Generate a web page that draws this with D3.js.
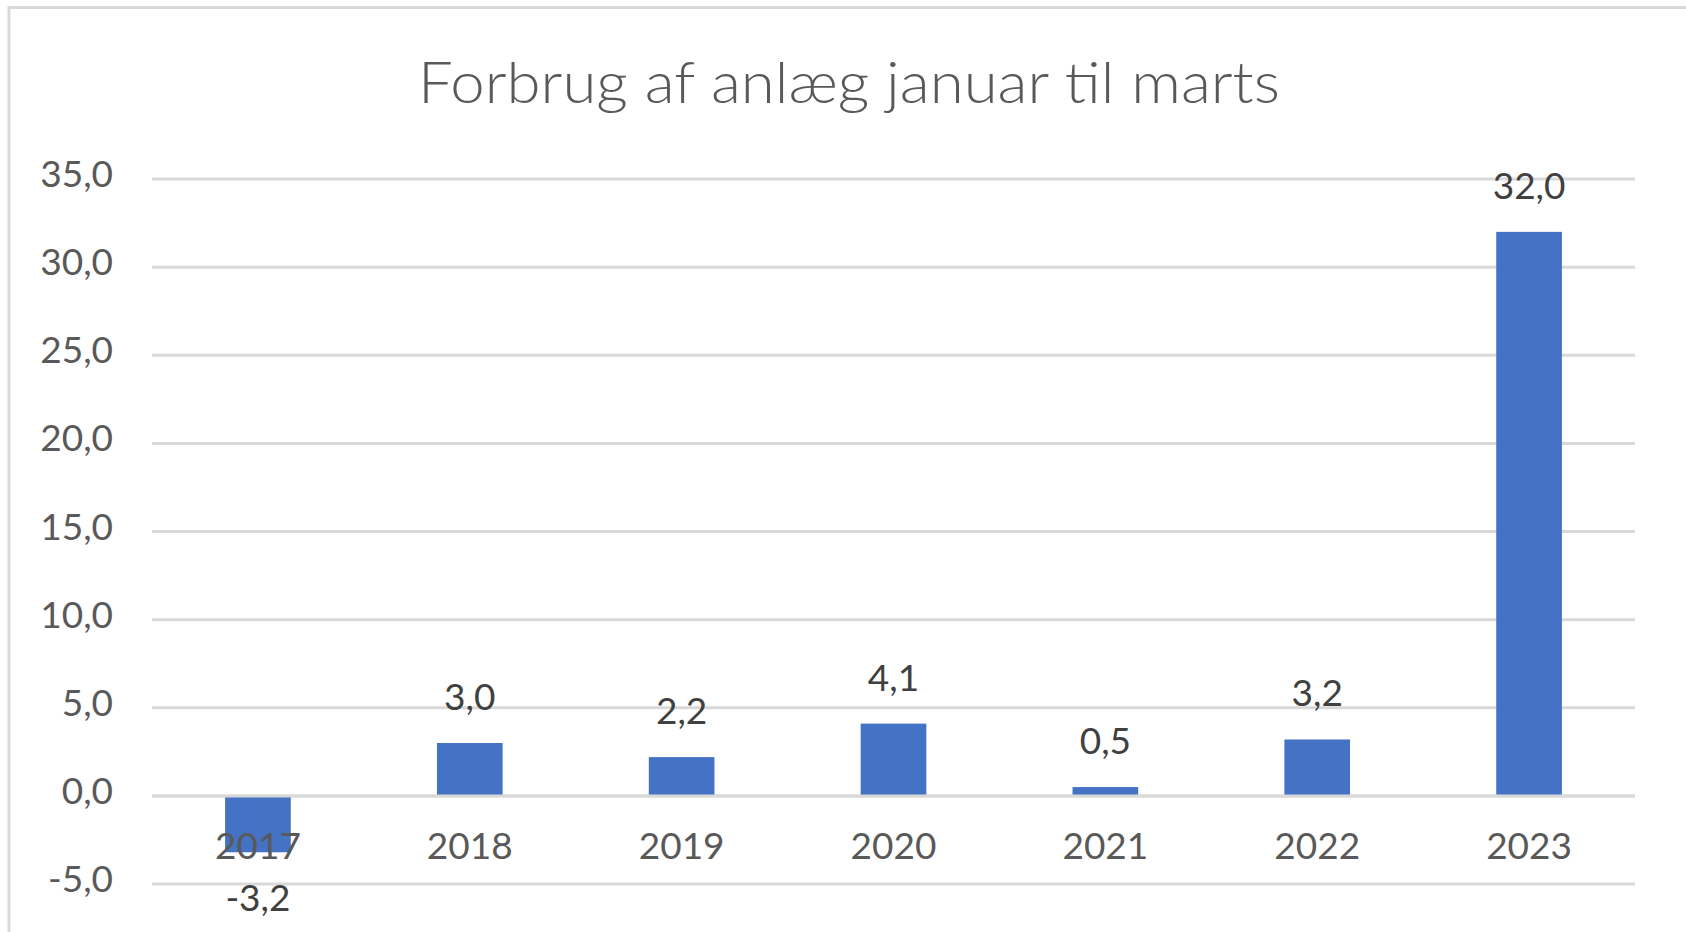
<!DOCTYPE html>
<html>
<head>
<meta charset="utf-8">
<script src="https://cdn.jsdelivr.net/npm/d3@7"></script>
<style>
  html, body { margin: 0; padding: 0; background: #fff; }
  svg { display: block; font-family: Lato, "Open Sans", sans-serif; }
</style>
</head>
<body>
<svg width="1686" height="932"></svg>
<script>
var titleText = "Forbrug af anlæg januar til marts";
var years = ["2017", "2018", "2019", "2020", "2021", "2022", "2023"];
var values = [-3.2, 3.0, 2.2, 4.1, 0.5, 3.2, 32.0];
var yTicks = [-5, 0, 5, 10, 15, 20, 25, 30, 35];

var svg = d3.select('svg');
var da = d3.formatLocale({decimal: ",", thousands: ".", grouping: [3], currency: ["", " kr."], minus: "-"});
var fmt = da.format(".1f");

// ramme
svg.append('rect')
   .attr('x', 9).attr('y', 7.5)
   .attr('width', 1700).attr('height', 960)
   .attr('fill', 'none')
   .attr('stroke', '#d9d9d9')
   .attr('stroke-width', 3);

var x = d3.scaleBand().domain(years).range([152, 1635]).paddingInner(0.69).paddingOuter(0.345);
var y = d3.scaleLinear().domain([-5, 35]).range([884, 179]);

// titel
svg.append('text')
   .attr('x', 849).attr('y', 103)
   .attr('text-anchor', 'middle')
   .attr('font-size', '57px')
   .attr('font-weight', 300)
   .attr('fill', '#595959')
   .attr('textLength', 862)
   .attr('lengthAdjust', 'spacingAndGlyphs')
   .text(titleText);

// gitterlinjer
svg.append('g').selectAll('line')
   .data(yTicks).enter().append('line')
   .attr('x1', 152).attr('x2', 1635)
   .attr('y1', function(d) { return y(d); })
   .attr('y2', function(d) { return y(d); })
   .attr('stroke', '#d9d9d9')
   .attr('stroke-width', 3);

// y-akse tekster
svg.append('g').selectAll('text')
   .data(yTicks).enter().append('text')
   .attr('x', 113)
   .attr('y', function(d) { return y(d) + 8; })
   .attr('text-anchor', 'end')
   .attr('font-size', '37px')
   .attr('fill', '#595959')
   .text(function(d) { return fmt(d); });

// søjler
svg.append('g').selectAll('rect')
   .data(values).enter().append('rect')
   .attr('x', function(d, i) { return x(years[i]); })
   .attr('width', x.bandwidth())
   .attr('y', function(d) { return y(Math.max(0, d)); })
   .attr('height', function(d) { return Math.abs(y(d) - y(0)); })
   .attr('fill', '#4472c4');

// nul-linje ovenpå søjlerne
svg.append('line')
   .attr('x1', 152).attr('x2', 1635)
   .attr('y1', y(0)).attr('y2', y(0))
   .attr('stroke', '#d9d9d9')
   .attr('stroke-width', 3);

// kategori tekster
svg.append('g').selectAll('text')
   .data(years).enter().append('text')
   .attr('x', function(d) { return x(d) + x.bandwidth() / 2; })
   .attr('y', y(0) + 63)
   .attr('text-anchor', 'middle')
   .attr('font-size', '37px')
   .attr('fill', '#595959')
   .text(function(d) { return d; });

// dataetiketter
svg.append('g').selectAll('text')
   .data(values).enter().append('text')
   .attr('x', function(d, i) { return x(years[i]) + x.bandwidth() / 2; })
   .attr('y', function(d) { return d >= 0 ? y(d) - 33 : y(d) + 59; })
   .attr('text-anchor', 'middle')
   .attr('font-size', '37px')
   .attr('fill', '#404040')
   .text(function(d) { return fmt(d); });
</script>
</body>
</html>
